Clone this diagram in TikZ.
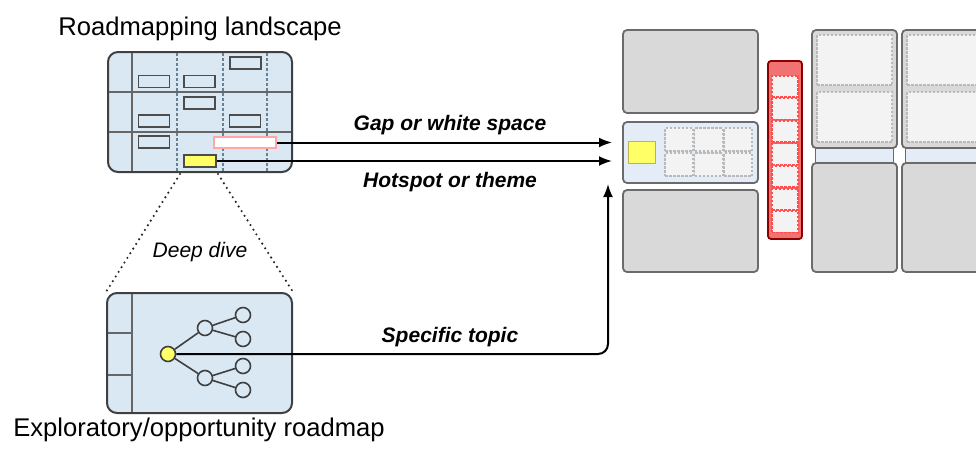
\documentclass[tikz,border=0pt]{standalone}
\usepackage{fontspec}
\setmainfont{Liberation Sans}
\usetikzlibrary{arrows.meta}

\definecolor{panelblue}{HTML}{DAE8F3}
\definecolor{boxgray}{HTML}{D9D9D9}
\definecolor{edgegray}{HTML}{6B6B6B}
\definecolor{cellgray}{HTML}{F3F3F3}
\definecolor{focusblue}{HTML}{E4ECF7}
\definecolor{markyellow}{HTML}{FFFF66}
\definecolor{barred}{HTML}{F07272}
\definecolor{gridblue}{HTML}{6A8090}

\begin{document}
\begin{tikzpicture}[x=1pt, y=-1pt, >={Latex[length=13pt,width=10pt]},
    panel/.style={draw=black!75, line width=2pt, rounded corners=10pt, fill=panelblue, inner sep=0pt},
    slot/.style={draw=black!70, line width=1.8pt, fill=panelblue, inner sep=0pt, minimum width=31pt, minimum height=12pt},
    bubble/.style={circle, draw=black!75, line width=1.6pt, fill=panelblue, minimum size=15pt, inner sep=0pt},
    block/.style={draw=edgegray, line width=1.8pt, fill=boxgray, rounded corners=4pt, inner sep=0pt},
    cell/.style={draw=gray!55, dash pattern=on 2.5pt off 1.5pt, line width=1.3pt, fill=cellgray, inner sep=0pt},
    redcell/.style={draw=red!70, dash pattern=on 2.5pt off 1.5pt, line width=1.5pt, fill=cellgray, inner sep=0pt, minimum width=26pt, minimum height=21pt},
    title/.style={font=\fontsize{25.6}{30}\selectfont, anchor=base},
    tag/.style={font=\fontsize{21}{25}\selectfont\bfseries\itshape, anchor=base}]
\useasboundingbox (0,0) rectangle (976,450);

% landscape overview
\node[panel, minimum width=184pt, minimum height=120pt] (land) at (200,112) {};
\draw[black!60, line width=1.2pt] (132,53) -- (132,171);
\foreach \gx in {177,223,267}
    \draw[gridblue, dash pattern=on 3pt off 2pt, line width=1.2pt] (\gx,53) -- (\gx,171);
\draw[black!60, line width=1.2pt] (109,92) -- (291,92) (109,132) -- (291,132);
\node[slot] (r1) at (245.5,63) {};
\node[slot] (r2) at (154,81.5) {};
\node[slot] (r3) at (199.5,81.5) {};
\node[slot] (r4) at (199.5,103) {};
\node[slot] (r5) at (154,121) {};
\node[slot] (r6) at (245,121) {};
\node[slot] (r7) at (154,142) {};
\node[slot, draw=red!35, fill=white, minimum width=62pt, minimum height=11pt] (gap) at (245,142.5) {};
\node[slot, fill=markyellow, minimum width=32pt] (hot) at (200,161) {};
\node[title] (landtitle) at (200,35) {Roadmapping landscape};

% exploratory roadmap
\node[panel, minimum width=185pt, minimum height=120pt] (explo) at (199.5,353) {};
\draw[black!60, line width=1.2pt] (132,294) -- (132,412);
\draw[black!60, line width=1.2pt] (108,333) -- (132,333) (108,375) -- (132,375);
\node[bubble, fill=markyellow] (seed) at (168,354) {};
\node[bubble] (b1) at (205,328) {};
\node[bubble] (b2) at (205,378) {};
\node[bubble] (l1) at (243,315) {};
\node[bubble] (l2) at (243,339) {};
\node[bubble] (l3) at (243,366) {};
\node[bubble] (l4) at (243,390) {};
\draw[black!75, line width=1.6pt] (seed) -- (b1) (seed) -- (b2)
    (b1) -- (l1) (b1) -- (l2) (b2) -- (l3) (b2) -- (l4);
\node[title] (explotitle) at (199,436) {Exploratory/opportunity roadmap};

% deep dive
\coordinate (diveL) at (180,174);
\coordinate (diveR) at (218,174);
\draw[black!85, line width=2.4pt, dash pattern=on 0pt off 5.5pt, line cap=round] (diveL) -- (explo.north west);
\draw[black!85, line width=2.4pt, dash pattern=on 0pt off 5.5pt, line cap=round] (diveR) -- (explo.north east);
\node[font=\fontsize{21}{25}\selectfont\itshape, anchor=base] (dive) at (200,257) {Deep dive};

% portfolio layout
\node[block, minimum width=135pt, minimum height=83pt] (upper) at (690.5,71.5) {};
\node[block, fill=focusblue, minimum width=135pt, minimum height=61pt] (focus) at (690.5,152.5) {};
\node[block, minimum width=135pt, minimum height=82pt] (lower) at (690.5,231) {};
\node[draw=olive!60, fill=markyellow, line width=1pt, minimum width=27pt, minimum height=22pt, inner sep=0pt] (mark) at (641.5,152) {};
\foreach \i/\cx in {1/679,2/708.5,3/738}
    \foreach \j/\cy in {1/139.5,2/164.5}
        \node[cell, minimum width=28pt, minimum height=23pt] (cell\i\j) at (\cx,\cy) {};

\node[draw=red!55!black, fill=barred, line width=1.8pt, rounded corners=3pt, minimum width=34pt, minimum height=178pt, inner sep=0pt] (bar) at (785,150) {};
\foreach \k in {0,...,6}
    \node[redcell] (bar\k) at (785,86.3+22.6*\k) {};

\begin{scope}
\clip (0,0) rectangle (976,450);
\foreach \i/\cx in {1/854.5,2/944.5} {
    \node[draw=edgegray, fill=focusblue, line width=1.4pt, minimum width=78pt, minimum height=16pt, inner sep=0pt] (strip\i) at (\cx,155.5) {};
    \node[block, minimum width=85pt, minimum height=118pt] (top\i) at (\cx,89) {};
    \node[cell, minimum width=75pt, minimum height=50pt] (topa\i) at (\cx,60) {};
    \node[cell, minimum width=75pt, minimum height=50pt] (topb\i) at (\cx,117) {};
    \node[block, minimum width=85pt, minimum height=109pt] (base\i) at (\cx,217.5) {};
}
\end{scope}

% links
\coordinate (gapend) at (612,142.5);
\coordinate (hotend) at (612,161);
\coordinate (topicend) at (608,184);
\draw[->, line width=2pt] (gap.east) -- (gapend);
\draw[->, line width=2pt] (hot.east) -- (hotend);
\draw[->, line width=2pt, rounded corners=10pt] (seed.east) -| (topicend);
\node[tag] (gaplabel) at (450,130) {Gap or white space};
\node[tag] (hotlabel) at (450,187) {Hotspot or theme};
\node[tag] (topiclabel) at (450,342) {Specific topic};
\end{tikzpicture}
\end{document}
